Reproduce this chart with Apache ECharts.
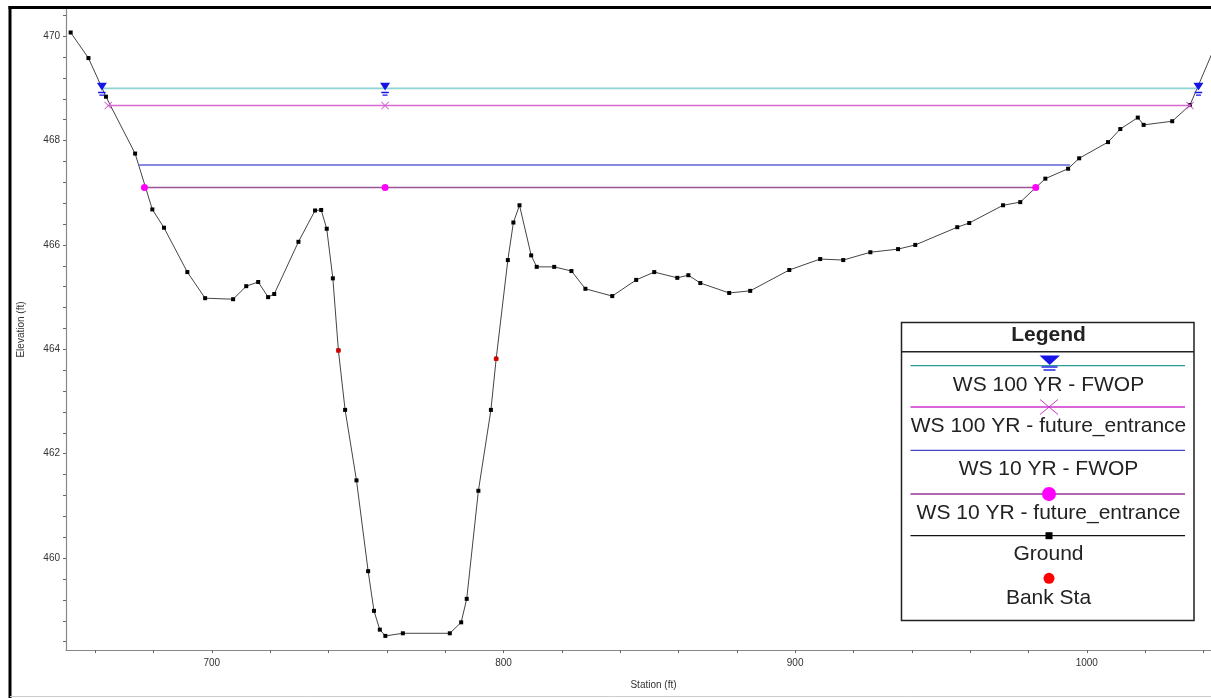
<!DOCTYPE html>
<html>
<head>
<meta charset="utf-8">
<script src="https://cdn.jsdelivr.net/npm/echarts@6/dist/echarts.min.js"></script>
<style>
html,body{margin:0;padding:0;background:#fff;}
#chart{width:1211px;height:698px;}
</style>
</head>
<body>
<div id="chart"></div>
<script>
// ---- data ----
var groundStation = [651.6, 657.7, 663.7, 673.7, 679.6, 683.6, 691.6, 697.7, 707.3, 711.8, 715.9, 719.3, 721.4, 729.7, 735.4, 737.5, 739.4, 741.5, 743.4, 745.7, 749.6, 753.6, 755.6, 757.6, 759.5, 765.5, 781.6, 785.5, 787.4, 791.4, 795.7, 797.5, 801.5, 803.4, 805.5, 809.5, 811.4, 817.4, 823.3, 828.1, 837.3, 845.5, 851.7, 859.6, 863.4, 867.5, 877.4, 884.6, 898.0, 908.6, 916.5, 925.8, 935.3, 941.2, 955.6, 959.7, 971.3, 977.2, 985.8, 993.6, 997.4, 1007.3, 1011.5, 1017.5, 1019.5, 1029.3, 1035.4, 1045.0];
var groundElev = [470.07, 469.58, 468.84, 467.75, 466.68, 466.33, 465.48, 464.98, 464.96, 465.21, 465.29, 465.00, 465.06, 466.06, 466.66, 466.67, 466.31, 465.36, 463.98, 462.84, 461.49, 459.75, 458.99, 458.63, 458.51, 458.56, 458.56, 458.77, 459.22, 461.29, 462.84, 463.82, 465.71, 466.43, 466.76, 465.80, 465.58, 465.58, 465.50, 465.16, 465.02, 465.33, 465.48, 465.37, 465.42, 465.27, 465.08, 465.12, 465.52, 465.73, 465.71, 465.86, 465.92, 466.00, 466.34, 466.42, 466.76, 466.82, 467.27, 467.46, 467.66, 467.97, 468.22, 468.44, 468.30, 468.37, 468.68, 469.94];

var bankStation = [743.4, 797.5];
var bankElev = [463.98, 463.82];

var ws100FwopStation = [662.3, 759.4, 1038.3];
var ws100FwopElev = [469.00, 469.00, 469.00];
var ws100FutStation = [664.5, 759.4, 1035.4];
var ws100FutElev = [468.67, 468.67, 468.67];
var ws10FwopStation = [674.8, 994.3];
var ws10FwopElev = [467.53, 467.53];
var ws10FutStation = [676.9, 759.4, 982.5];
var ws10FutElev = [467.10, 467.10, 467.10];

var xTickValues = [660, 680, 700, 720, 740, 760, 780, 800, 820, 840, 860, 880, 900, 920, 940, 960, 980, 1000, 1020, 1040];
var xLabelValues = [700, 800, 900, 1000];
var yTickValues = [458.4, 458.8, 459.2, 459.6, 460, 460.4, 460.8, 461.2, 461.6, 462, 462.4, 462.8, 463.2, 463.6, 464, 464.4, 464.8, 465.2, 465.6, 466, 466.4, 466.8, 467.2, 467.6, 468, 468.4, 468.8, 469.2, 469.6, 470, 470.4];
var yLabelValues = [460, 462, 464, 466, 468, 470];

var legendNames = ['WS 100 YR - FWOP', 'WS 100 YR - future_entrance', 'WS 10 YR - FWOP', 'WS 10 YR - future_entrance', 'Ground', 'Bank Sta'];

function pairs(xs, ys) { return xs.map(function (x, i) { return [x, ys[i]]; }); }

var WS_SYMBOL = 'path://M0,0 L12,0 L6,7 Z M1.5,8.3 L10.5,8.3 L10.5,9.5 L1.5,9.5 Z M3,10.8 L9,10.8 L9,12 L3,12 Z';
var X_SYMBOL = 'path://M0,0.8 L0.8,0 L5,4.2 L9.2,0 L10,0.8 L5.8,5 L10,9.2 L9.2,10 L5,5.8 L0.8,10 L0,9.2 L4.2,5 Z';

var FONT = '"Liberation Sans", Arial, sans-serif';
var axisTxt = {fontFamily: FONT, fontSize: 10, color: '#333'};

var chart = echarts.init(document.getElementById('chart'), null, {renderer: 'canvas'});

// legend box geometry
var LX = 901.5, LY = 322.5, LW = 292.5, LH = 298, LC = 1048.5;
function lline(y, color) {
  return {type: 'line', shape: {x1: 910.5, y1: y, x2: 1185, y2: y}, style: {stroke: color, lineWidth: 1.3}, z: 101};
}
function ltext(t, y, bold) {
  return {type: 'text', x: LC, y: y, style: {text: t, fill: '#222', font: (bold ? 'bold ' : '') + '21px ' + FONT, textAlign: 'center', textVerticalAlign: 'middle'}, z: 101};
}

var option = {
  backgroundColor: '#fff',
  animation: false,
  grid: {left: 66, right: 0, top: 9, bottom: 48, containLabel: false},
  xAxis: {
    type: 'value', min: 650, max: 1042.6,
    name: 'Station (ft)', nameLocation: 'middle', nameGap: 30,
    nameTextStyle: {fontFamily: FONT, fontSize: 10, color: '#333', padding: [0, 0, 0, 30]},
    axisLine: {show: true, lineStyle: {color: '#888', width: 1.2}},
    axisTick: {show: true, length: 3, lineStyle: {color: '#666'}, customValues: xTickValues},
    axisLabel: Object.assign({margin: 8, customValues: xLabelValues, formatter: function (v) { return String(v); }}, axisTxt),
    splitLine: {show: false}
  },
  yAxis: {
    type: 'value', min: 458.24, max: 470.52,
    name: 'Elevation (ft)', nameLocation: 'middle', nameGap: 40,
    nameTextStyle: {fontFamily: FONT, fontSize: 10, color: '#333'},
    axisLine: {show: true, lineStyle: {color: '#888', width: 1.2}},
    axisTick: {show: true, length: 3, lineStyle: {color: '#666'}, customValues: yTickValues},
    axisLabel: Object.assign({margin: 6, customValues: yLabelValues, formatter: function (v) { return String(v); }}, axisTxt),
    splitLine: {show: false}
  },
  series: [
    {
      name: legendNames[4], type: 'line', data: pairs(groundStation, groundElev),
      symbol: 'rect', symbolSize: 4, showAllSymbol: true, clip: true,
      itemStyle: {color: '#000'}, lineStyle: {color: '#444', width: 1}, z: 3
    },
    {
      name: legendNames[5], type: 'scatter', data: pairs(bankStation, bankElev),
      symbol: 'circle', symbolSize: 5, itemStyle: {color: '#ff0000'}, z: 6
    },
    {
      name: legendNames[0], type: 'line', data: pairs(ws100FwopStation, ws100FwopElev),
      symbol: WS_SYMBOL, symbolSize: [10, 13], symbolOffset: [0, 1],
      itemStyle: {color: '#1515e8'}, lineStyle: {color: '#8ed2d2', width: 1.6}, z: 4
    },
    {
      name: legendNames[1], type: 'line', data: pairs(ws100FutStation, ws100FutElev),
      symbol: X_SYMBOL, symbolSize: 8,
      itemStyle: {color: '#d65fd0'}, lineStyle: {color: '#d86ad2', width: 1.5}, z: 4
    },
    {
      name: legendNames[2], type: 'line', data: pairs(ws10FwopStation, ws10FwopElev),
      symbol: 'none',
      lineStyle: {color: '#6262d8', width: 1.6}, z: 4
    },
    {
      name: legendNames[3], type: 'line', data: pairs(ws10FutStation, ws10FutElev),
      symbol: 'circle', symbolSize: 7,
      itemStyle: {color: '#ff00ff'}, lineStyle: {color: '#9a559a', width: 1.5}, z: 5
    }
  ],
  graphic: [
    // outer frame
    {type: 'line', shape: {x1: 10, y1: 6, x2: 10, y2: 698}, style: {stroke: '#000', lineWidth: 3}, z: 100},
    {type: 'line', shape: {x1: 8.5, y1: 7.5, x2: 1211, y2: 7.5}, style: {stroke: '#000', lineWidth: 3}, z: 100},
    {type: 'line', shape: {x1: 10, y1: 696.5, x2: 1211, y2: 696.5}, style: {stroke: '#ccc', lineWidth: 1}, z: 100},
    // legend
    {type: 'rect', shape: {x: LX, y: LY, width: LW, height: LH}, style: {fill: '#fff', stroke: '#222', lineWidth: 1.5}, z: 100},
    ltext('Legend', 335.7, true),
    {type: 'line', shape: {x1: LX, y1: 351.7, x2: LX + LW, y2: 351.7}, style: {stroke: '#222', lineWidth: 1.5}, z: 101},
    lline(365.7, '#2a9a9a'),
    {type: 'polygon', shape: {points: [[1039.5, 355.5], [1060, 355.5], [1049.7, 365]]}, style: {fill: '#1515e8'}, z: 102},
    {type: 'rect', shape: {x: 1041.5, y: 366.3, width: 16, height: 1.4}, style: {fill: '#1515e8'}, z: 102},
    {type: 'rect', shape: {x: 1043.5, y: 369.3, width: 12, height: 1.4}, style: {fill: '#1515e8'}, z: 102},
    ltext(legendNames[0], 385),
    lline(407, '#cc33cc'),
    {type: 'line', shape: {x1: 1040, y1: 399.5, x2: 1058, y2: 414.5}, style: {stroke: '#cc33cc', lineWidth: 1}, z: 102},
    {type: 'line', shape: {x1: 1058, y1: 399.5, x2: 1040, y2: 414.5}, style: {stroke: '#cc33cc', lineWidth: 1}, z: 102},
    ltext(legendNames[1], 426.7),
    lline(450.3, '#4646c8'),
    ltext(legendNames[2], 469),
    lline(494, '#993399'),
    {type: 'circle', shape: {cx: 1049, cy: 494, r: 7}, style: {fill: '#ff00ff'}, z: 102},
    ltext(legendNames[3], 513.3),
    lline(535.7, '#111'),
    {type: 'rect', shape: {x: 1045.5, y: 532.2, width: 7, height: 7}, style: {fill: '#000'}, z: 102},
    ltext(legendNames[4], 554.3),
    {type: 'circle', shape: {cx: 1049, cy: 578.3, r: 5.5}, style: {fill: '#ff0000'}, z: 102},
    ltext(legendNames[5], 598.3)
  ]
};
chart.setOption(option);
</script>
</body>
</html>
